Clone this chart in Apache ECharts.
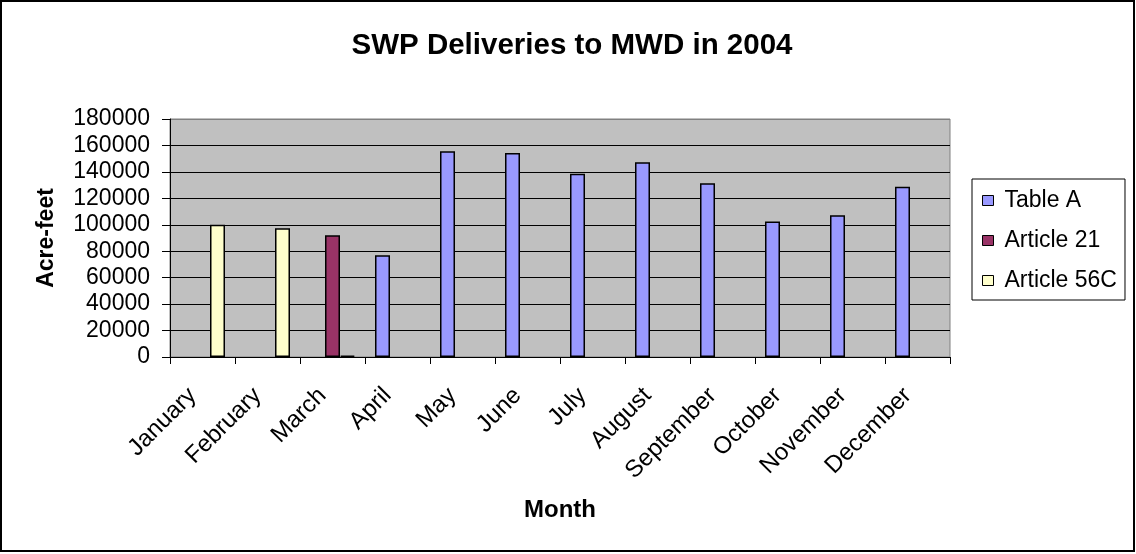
<!DOCTYPE html>
<html>
<head>
<meta charset="utf-8">
<script src="https://cdn.jsdelivr.net/npm/echarts@6/dist/echarts.min.js"></script>
<style>
  html, body { margin: 0; padding: 0; background: #fff; }
  #chart { width: 1136px; height: 554px; }
</style>
</head>
<body>
<div id="chart"></div>
<script>
// categories and series (acre-feet), '-' = no bar
var months = ['January', 'February', 'March', 'April', 'May', 'June', 'July',
    'August', 'September', 'October', 'November', 'December'];
var tableA = ['-', '-', '-', 77000, 155700, 154200, 138500, 147200, 131500, 102500, 107200, 128800];
var article21 = ['-', '-', 92000, '-', '-', '-', '-', '-', '-', '-', '-', '-'];
var article56C = [100000, 97400, 1000, '-', '-', '-', '-', '-', '-', '-', '-', '-'];

var font = '"Liberation Sans", Arial, sans-serif';

var chart = echarts.init(document.getElementById('chart'));

var barStyle = function (color) {
    return {
        color: color,
        borderColor: '#000',
        borderWidth: 1.5
    };
};

// gridlines are black, the top one is the grey plot border
var gridColors = ['#000', '#000', '#000', '#000', '#000', '#000', '#000', '#000', '#000', '#808080'];

var option = {
    animation: false,
    backgroundColor: '#fff',
    textStyle: { fontFamily: font, color: '#000' },
    graphic: [
        {
            type: 'rect',
            shape: { x: 1, y: 1, width: 1133, height: 550 },
            style: { fill: 'none', stroke: '#000', lineWidth: 2 },
            z: 100
        },
        {
            type: 'text',
            x: 572,
            y: 46,
            style: {
                text: 'SWP Deliveries to MWD in 2004',
                font: 'bold 29.5px ' + font,
                fill: '#000',
                textAlign: 'center',
                textVerticalAlign: 'middle'
            }
        }
    ],
    legend: {
        orient: 'vertical',
        left: 972,
        top: 179,
        padding: [10, 8, 8, 10],
        itemGap: 17,
        itemWidth: 11,
        itemHeight: 10,
        icon: 'rect',
        borderColor: '#000',
        borderWidth: 1,
        backgroundColor: '#fff',
        itemStyle: { borderColor: '#000', borderWidth: 1 },
        textStyle: { fontFamily: font, fontSize: 23, lineHeight: 22, color: '#000', padding: [0, 0, 0, 6] },
        data: ['Table A', 'Article 21', 'Article 56C']
    },
    grid: {
        left: 170,
        right: 186,
        top: 119,
        bottom: 197,
        show: true,
        backgroundColor: '#C0C0C0',
        borderColor: '#808080',
        borderWidth: 1
    },
    xAxis: {
        type: 'category',
        data: months,
        name: 'Month',
        nameLocation: 'middle',
        nameGap: 141,
        nameTextStyle: { fontFamily: font, fontSize: 24, fontWeight: 'bold', color: '#000' },
        axisLine: { lineStyle: { color: '#000', width: 1 } },
        axisTick: { show: true, length: 7, lineStyle: { color: '#000' } },
        axisLabel: {
            interval: 0, rotate: 45, margin: 25, padding: [0, 14, 0, 0],
            fontFamily: font, fontSize: 24, color: '#000'
        }
    },
    yAxis: {
        type: 'value',
        min: 0,
        max: 180000,
        interval: 20000,
        name: 'Acre-feet',
        nameLocation: 'middle',
        nameGap: 112,
        nameTextStyle: { fontFamily: font, fontSize: 23, fontWeight: 'bold', color: '#000' },
        axisLine: { show: true, lineStyle: { color: '#000', width: 1 } },
        axisTick: { show: true, length: 8, lineStyle: { color: '#000' } },
        axisLabel: {
            margin: 20, fontFamily: font, fontSize: 23, color: '#000',
            formatter: function (v) { return String(v); }
        },
        splitLine: { show: true, lineStyle: { color: gridColors, width: 1 } }
    },
    series: [
        {
            name: 'Table A',
            type: 'bar',
            barWidth: 15,
            barGap: '0%',
            itemStyle: barStyle('#9999FF'),
            data: tableA
        },
        {
            name: 'Article 21',
            type: 'bar',
            barWidth: 15,
            barGap: '0%',
            itemStyle: barStyle('#993366'),
            data: article21
        },
        {
            name: 'Article 56C',
            type: 'bar',
            barWidth: 15,
            barGap: '0%',
            itemStyle: barStyle('#FFFFCC'),
            data: article56C
        }
    ]
};

chart.setOption(option);
</script>
</body>
</html>
